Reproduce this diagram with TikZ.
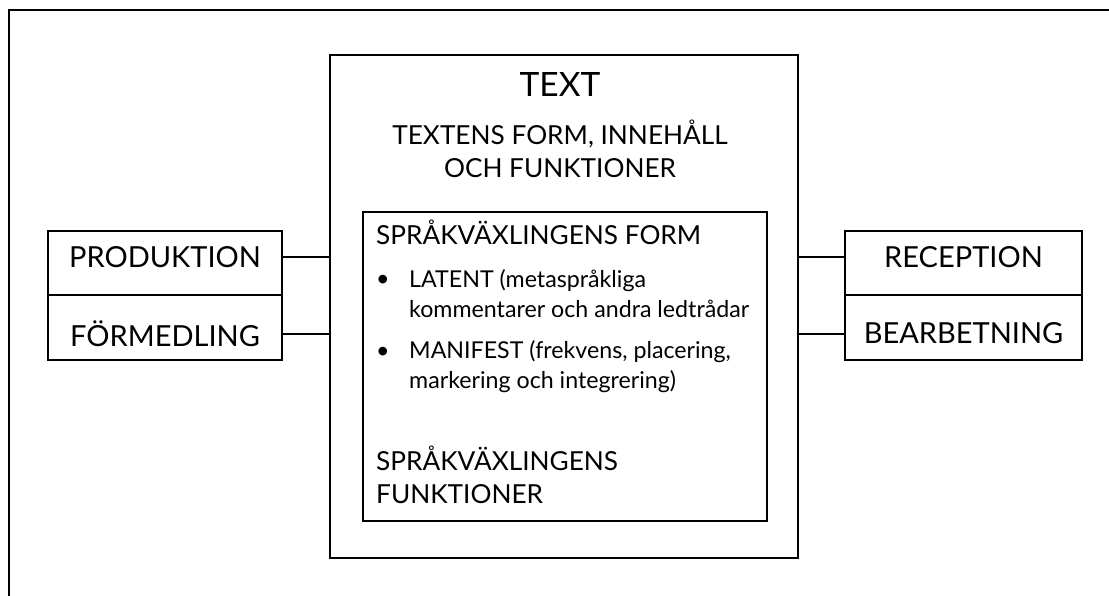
\documentclass[tikz,border=0pt]{standalone}
\usepackage{fontspec}
\setmainfont{Lato}
\usetikzlibrary{positioning}

\tikzset{
  box/.style={draw, line width=2pt, inner sep=0pt, outer sep=0pt},
  role/.style={box, minimum height=64pt},
  word/.style={inner sep=0pt, font=\fontsize{29}{34}\selectfont},
  body/.style={inner sep=0pt, align=left, font=\fontsize{23.2}{30}\selectfont},
  head/.style={inner sep=0pt, align=left, font=\fontsize{26.2}{33}\selectfont},
  link/.style={line width=2pt},
}

\begin{document}
\begin{tikzpicture}[x=1pt,y=-1pt]
  \useasboundingbox (0,0) rectangle (1109,596);
  % frame
  \draw[line width=2.2pt] (1109,10) -- (9,10) -- (9,596);

  % centre boxes
  \node[box, minimum width=468pt, minimum height=503pt] (text) at (564,306.5) {};
  \node[box, minimum width=404pt, minimum height=309pt] (form) at (565,366.5) {};

  \node[inner sep=0pt, anchor=base, font=\fontsize{33.5}{38}\selectfont] (title) at (560,97) {TEXT};
  \node[head, align=center, anchor=base] (content) at (560,178) {TEXTENS FORM, INNEHÅLL\\OCH FUNKTIONER};

  % inner box (base = last line)
  \node[head, anchor=base west] (formhead) at (376,245) {SPRÅKVÄXLINGENS FORM};
  \node[body, anchor=base west] (dota) at (376,287) {•};
  \node[body, anchor=base west] (latent) at (409,317) {LATENT (metaspråkliga\\kommentarer och andra ledtrådar};
  \node[body, anchor=base west] (dotb) at (376,358) {•};
  \node[body, anchor=base west] (manifest) at (409,388) {MANIFEST (frekvens, placering,\\markering och integrering)};
  \node[head, anchor=base west] (funchead) at (376,503) {SPRÅKVÄXLINGENS\\FUNKTIONER};

  % left side
  \node[role, minimum width=234pt] (prod) at (165,263.5) {};
  \node[role, minimum width=234pt, below=0pt of prod] (medl) {};
  \node[word] (prodtext) at ([yshift=6pt]prod.center) {PRODUKTION};
  \node[word] (medltext) at ([yshift=-6pt]medl.center) {FÖRMEDLING};

  % right side
  \node[role, minimum width=237pt] (rec) at (963.5,263.5) {};
  \node[role, minimum width=237pt, below=0pt of rec] (bearb) {};
  \node[word] (rectext) at ([yshift=6pt]rec.center) {RECEPTION};
  \node[word] (bearbtext) at ([yshift=-6pt]bearb.center) {BEARBETNING};

  % connectors
  \draw[link] (prodtext -| prod.east) -- (prodtext -| text.west);
  \draw[link] (medltext -| medl.east) -- (medltext -| text.west);
  \draw[link] (rectext -| text.east) -- (rectext -| rec.west);
  \draw[link] (bearbtext -| text.east) -- (bearbtext -| bearb.west);
\end{tikzpicture}
\end{document}
